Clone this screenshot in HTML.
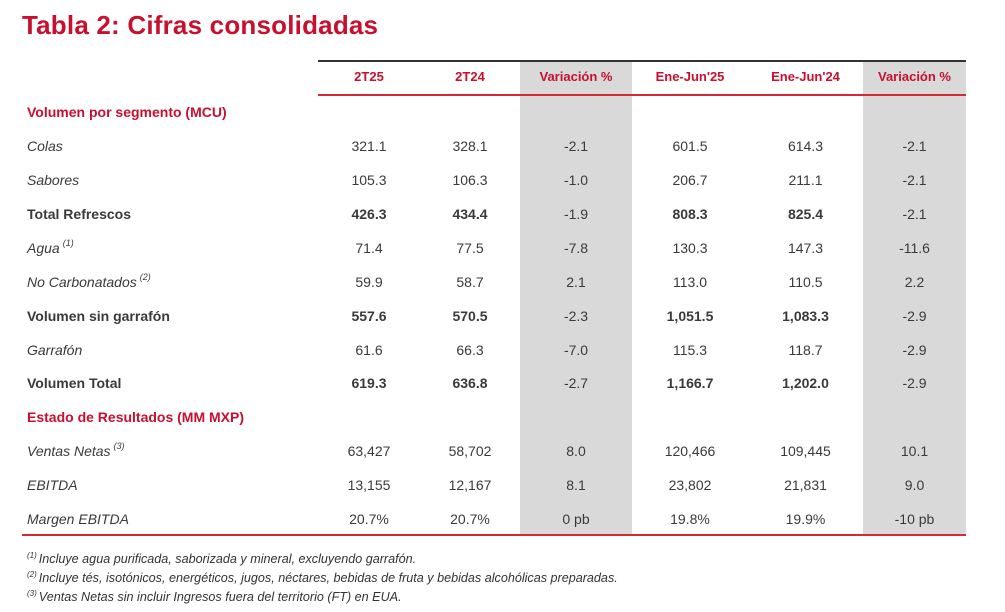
<!DOCTYPE html>
<html><head><meta charset="utf-8"><style>
body{margin:0;background:#fff;width:1005px;height:612px;position:relative;overflow:hidden;font-family:"Liberation Sans","DejaVu Sans",sans-serif;color:#3a3a3a}
.a{position:absolute}
.t{left:22px;top:10px;font-size:26px;font-weight:bold;color:#c8102e;letter-spacing:0.2px}
.g{background:#d9d9d9;top:62px;height:473px}
.r{position:absolute;left:0;width:1005px;height:20px;font-size:14px;line-height:20px}
.r span{position:absolute;text-align:center}
.l{left:27px;font-style:italic}
.b{font-weight:bold}
.b .l{font-style:normal}
.c1{left:318px;width:102px}.c2{left:420px;width:100px}.c3{left:520px;width:112px}.c4{left:632px;width:116px}.c5{left:748px;width:115px}.c6{left:863px;width:103px}
.h{color:#c8102e;font-weight:bold;font-size:13px}
.s{color:#c8102e;font-weight:bold;font-size:14px;left:27px}
sup{font-size:9px;vertical-align:baseline;position:relative;top:-7px;margin-left:3px;line-height:0}
.f{left:27px;font-size:12.6px;font-style:italic;color:#333;line-height:14px;white-space:nowrap}
.f sup{font-size:8px;top:-5px;margin:0 2px 0 0}
</style></head><body>
<div class="a t">Tabla 2: Cifras consolidadas</div>
<div class="a g" style="left:520px;width:112px"></div>
<div class="a g" style="left:863px;width:103px"></div>
<div class="a" style="left:318px;top:60px;width:648px;height:2px;background:#333"></div>
<div class="a" style="left:318px;top:94px;width:648px;height:2px;background:#d42a35"></div>
<div class="a" style="left:22px;top:534px;width:944px;height:2px;background:#d42a35"></div>

<div class="r h" style="top:67px"><span class="c1">2T25</span><span class="c2">2T24</span><span class="c3">Variación %</span><span class="c4">Ene-Jun'25</span><span class="c5">Ene-Jun'24</span><span class="c6">Variación %</span></div>
<div class="r" style="top:102px"><span class="s">Volumen por segmento (MCU)</span></div>
<div class="r" style="top:136px"><span class="l">Colas</span><span class="c1">321.1</span><span class="c2">328.1</span><span class="c3">-2.1</span><span class="c4">601.5</span><span class="c5">614.3</span><span class="c6">-2.1</span></div>
<div class="r" style="top:170px"><span class="l">Sabores</span><span class="c1">105.3</span><span class="c2">106.3</span><span class="c3">-1.0</span><span class="c4">206.7</span><span class="c5">211.1</span><span class="c6">-2.1</span></div>
<div class="r b" style="top:204px"><span class="l">Total Refrescos</span><span class="c1">426.3</span><span class="c2">434.4</span><span class="c3" style="font-weight:normal">-1.9</span><span class="c4">808.3</span><span class="c5">825.4</span><span class="c6" style="font-weight:normal">-2.1</span></div>
<div class="r" style="top:238px"><span class="l">Agua<sup>(1)</sup></span><span class="c1">71.4</span><span class="c2">77.5</span><span class="c3">-7.8</span><span class="c4">130.3</span><span class="c5">147.3</span><span class="c6">-11.6</span></div>
<div class="r" style="top:272px"><span class="l">No Carbonatados<sup>(2)</sup></span><span class="c1">59.9</span><span class="c2">58.7</span><span class="c3">2.1</span><span class="c4">113.0</span><span class="c5">110.5</span><span class="c6">2.2</span></div>
<div class="r b" style="top:306px"><span class="l">Volumen sin garrafón</span><span class="c1">557.6</span><span class="c2">570.5</span><span class="c3" style="font-weight:normal">-2.3</span><span class="c4">1,051.5</span><span class="c5">1,083.3</span><span class="c6" style="font-weight:normal">-2.9</span></div>
<div class="r" style="top:340px"><span class="l">Garrafón</span><span class="c1">61.6</span><span class="c2">66.3</span><span class="c3">-7.0</span><span class="c4">115.3</span><span class="c5">118.7</span><span class="c6">-2.9</span></div>
<div class="r b" style="top:373px"><span class="l">Volumen Total</span><span class="c1">619.3</span><span class="c2">636.8</span><span class="c3" style="font-weight:normal">-2.7</span><span class="c4">1,166.7</span><span class="c5">1,202.0</span><span class="c6" style="font-weight:normal">-2.9</span></div>
<div class="r" style="top:407px"><span class="s">Estado de Resultados (MM MXP)</span></div>
<div class="r" style="top:441px"><span class="l">Ventas Netas<sup>(3)</sup></span><span class="c1">63,427</span><span class="c2">58,702</span><span class="c3">8.0</span><span class="c4">120,466</span><span class="c5">109,445</span><span class="c6">10.1</span></div>
<div class="r" style="top:475px"><span class="l">EBITDA</span><span class="c1">13,155</span><span class="c2">12,167</span><span class="c3">8.1</span><span class="c4">23,802</span><span class="c5">21,831</span><span class="c6">9.0</span></div>
<div class="r" style="top:509px"><span class="l">Margen EBITDA</span><span class="c1">20.7%</span><span class="c2">20.7%</span><span class="c3">0 pb</span><span class="c4">19.8%</span><span class="c5">19.9%</span><span class="c6">-10 pb</span></div>

<div class="a f" style="top:552px"><sup>(1)</sup>Incluye agua purificada, saborizada y mineral, excluyendo garrafón.</div>
<div class="a f" style="top:571px"><sup>(2)</sup>Incluye tés, isotónicos, energéticos, jugos, néctares, bebidas de fruta y bebidas alcohólicas preparadas.</div>
<div class="a f" style="top:590px"><sup>(3)</sup>Ventas Netas sin incluir Ingresos fuera del territorio (FT) en EUA.</div>
</body></html>
